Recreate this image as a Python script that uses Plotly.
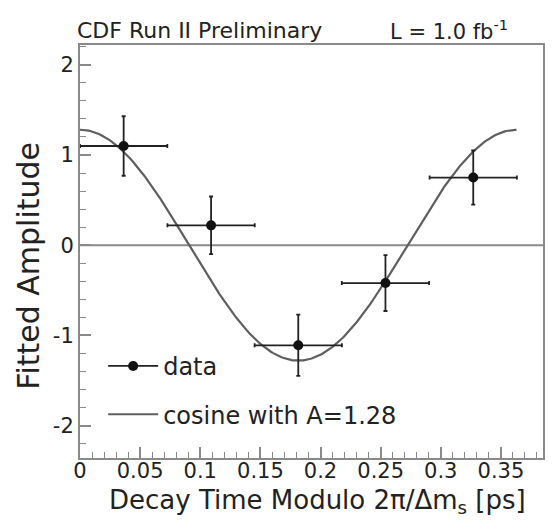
import numpy as np
import plotly.graph_objects as go

# ---- data ----
period = 0.363  # 2*pi/dm_s [ps]
bin_centers = [0.0363, 0.109, 0.1815, 0.254, 0.327]
bin_half_widths = [0.0363, 0.0363, 0.0363, 0.0363, 0.0363]
amplitudes = [1.10, 0.22, -1.11, -0.42, 0.75]
amp_errors = [0.33, 0.32, 0.34, 0.31, 0.30]
cos_amp = 1.28
x_ticks = [0, 0.05, 0.1, 0.15, 0.2, 0.25, 0.3, 0.35]
x_ticklabels = ["0", "0.05", "0.1", "0.15", "0.2", "0.25", "0.3", "0.35"]
y_ticks = [-2, -1, 0, 1, 2]
y_ticklabels = ["-2", "-1", "0", "1", "2"]

t = np.linspace(0, period, 300)
curve = cos_amp * np.cos(2 * np.pi * t / period)

FONT = "DejaVu Sans, Liberation Sans, Arial, sans-serif"
GRAY = "#8a8a8a"
INK = "#222222"

fig = go.Figure()

# zero line
fig.add_hline(y=0, line=dict(color=GRAY, width=2), layer="below")

fig.add_trace(go.Scatter(
    x=t, y=curve, mode="lines",
    line=dict(color="#5f5f5f", width=2.2),
    name="cosine with A=1.28", legend="legend2",
))

fig.add_trace(go.Scatter(
    x=bin_centers, y=amplitudes, mode="markers",
    marker=dict(color="#111111", size=10),
    error_x=dict(type="data", array=bin_half_widths, color=INK, thickness=1.8, width=2),
    error_y=dict(type="data", array=amp_errors, color=INK, thickness=1.8, width=2),
    name="data", showlegend=False,
))
# legend entry for data (line + marker symbol)
fig.add_trace(go.Scatter(
    x=[None], y=[None], mode="lines+markers",
    marker=dict(color="#111111", size=10),
    line=dict(color=INK, width=1.8),
    name="data", legend="legend",
))

axis_common = dict(
    showline=True, linecolor=GRAY, linewidth=2, mirror=True,
    ticks="inside", tickcolor=GRAY, tickwidth=1.5,
    showgrid=False, zeroline=False,
    tickfont=dict(family=FONT, size=21, color=INK),
)

fig.update_xaxes(
    range=[0, 0.385], tickvals=x_ticks, ticktext=x_ticklabels, ticklen=11,
    ticklabelstandoff=-7,
    minor=dict(ticks="inside", ticklen=6, dtick=0.01, tickcolor=GRAY, tickwidth=1.2),
    **axis_common,
)
fig.update_yaxes(
    range=[-2.36, 2.22], tickvals=y_ticks, ticktext=y_ticklabels, ticklen=11,
    minor=dict(ticks="inside", ticklen=6, dtick=0.2, tick0=0, tickcolor=GRAY, tickwidth=1.2),
    **axis_common,
)

leg_common = dict(xanchor="left", yanchor="middle", itemwidth=50,
                  font=dict(family=FONT, size=24, color=INK), bgcolor="rgba(0,0,0,0)")

fig.update_layout(
    width=553, height=521,
    margin=dict(l=80, r=8, t=45, b=63),
    paper_bgcolor="white", plot_bgcolor="white",
    font=dict(family=FONT, color=INK),
    legend=dict(x=0.05, y=0.222, **leg_common),
    legend2=dict(x=0.05, y=0.105, **leg_common),
    annotations=[
        dict(text="CDF Run II Preliminary", xref="paper", yref="paper", x=-0.011, y=1.036,
             xanchor="left", yanchor="middle", showarrow=False,
             font=dict(family=FONT, size=22, color=INK)),
        dict(text="L = 1.0 fb<sup>-1</sup>", xref="paper", yref="paper", x=0.929, y=1.036,
             xanchor="right", yanchor="middle", showarrow=False,
             font=dict(family=FONT, size=21, color=INK)),
        dict(text="Decay Time Modulo 2π/Δm<sub>s</sub> [ps]", xref="paper", yref="paper",
             x=0.968, y=-0.105, xanchor="right", yanchor="middle", showarrow=False,
             font=dict(family=FONT, size=26, color=INK)),
        dict(text="Fitted Amplitude", xref="paper", yref="paper", x=-0.112, y=0.466,
             xanchor="center", yanchor="middle", textangle=-90, showarrow=False,
             font=dict(family=FONT, size=30, color=INK)),
    ],
)

fig.write_html("out.html")
